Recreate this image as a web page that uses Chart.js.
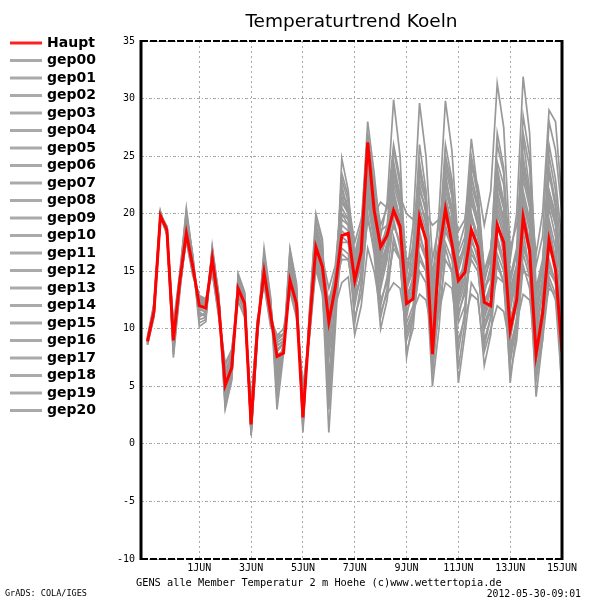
<!DOCTYPE html>
<html><head><meta charset="utf-8">
<script src="https://cdn.jsdelivr.net/npm/chart.js@4"></script>
<style>html,body{margin:0;padding:0;background:#fff}canvas{display:block}</style>
</head><body>
<canvas id="c" width="600" height="600"></canvas>
<script>
// x positions are 6-hourly forecast steps from 2012-05-30 00Z (step 0) to 2012-06-15 00Z (step 64)
const tickSteps = [8,16,24,32,40,48,56,64];
const tickLabels = ['1JUN','3JUN','5JUN','7JUN','9JUN','11JUN','13JUN','15JUN'];
const yMin = -10, yMax = 35, yStep = 5;

const haupt = [8.9,11.5,19.8,18.6,9.0,14.2,18.3,15.4,12.0,11.8,16.1,12.0,5.1,6.6,13.5,12.2,1.7,10.2,14.9,11.3,7.6,7.9,14.2,12.2,2.3,10.2,17.1,15.4,10.6,13.6,18.1,18.3,14.2,16.7,26.2,20.3,17.1,18.1,20.3,18.9,12.2,12.6,19.7,17.7,7.8,16.5,20.4,17.4,14.2,14.9,18.6,17.1,12.3,12.0,19.0,17.5,9.9,12.5,19.7,16.8,7.8,11.3,17.7,15.1,8.0];
const gep00 = [9.0,11.8,19.9,18.3,9.5,14.5,19.0,15.8,11.5,11.0,16.5,12.3,4.5,6.2,14.0,12.5,1.2,10.0,15.5,11.8,7.0,8.5,15.0,12.8,3.0,10.5,17.8,16.0,9.0,14.0,22.5,20.0,13.0,17.0,25.5,21.0,16.0,18.5,24.0,21.5,14.0,16.0,26.0,22.0,12.0,16.5,23.5,20.0,13.5,16.0,22.0,19.5,12.0,14.0,24.0,21.0,11.5,15.0,26.5,22.0,12.0,15.5,24.0,21.0,14.0];
const gep01 = [8.7,11.2,19.6,18.8,8.5,13.8,18.0,15.0,12.5,12.2,15.5,11.5,5.5,7.0,13.0,12.0,2.2,10.5,14.5,11.0,8.2,8.8,13.8,12.0,3.5,9.8,16.5,14.8,11.0,13.0,16.5,16.0,12.5,14.5,21.0,17.5,11.0,13.5,17.5,16.0,9.0,11.0,15.0,14.0,8.0,11.5,16.0,15.0,10.5,12.0,17.0,15.5,9.0,11.0,15.5,14.0,7.5,10.5,16.5,14.5,6.0,9.5,14.5,13.0,7.0];
const gep02 = [9.2,12.0,20.1,18.5,10.2,14.8,20.5,16.2,10.5,10.8,17.0,12.8,3.5,5.8,14.5,13.0,0.8,9.5,16.0,12.5,5.0,8.0,16.5,13.5,1.5,11.0,19.0,17.0,5.0,12.0,24.8,22.0,15.0,18.5,28.0,23.5,18.0,21.0,29.9,25.0,13.0,17.5,24.5,21.0,10.0,15.0,22.0,20.0,12.5,15.5,21.5,19.0,11.0,13.5,23.0,20.5,10.0,14.0,25.0,21.5,9.0,13.5,23.5,20.5,12.0];
const gep03 = [8.8,11.5,19.7,18.2,8.0,13.5,17.8,14.8,12.8,12.5,15.0,11.0,6.5,7.5,13.0,11.5,3.0,10.8,14.0,10.5,9.0,9.5,13.5,11.5,4.5,9.5,15.5,13.5,1.0,10.0,20.0,19.0,10.5,14.0,22.5,18.5,12.0,14.5,19.5,17.0,7.5,11.0,18.5,16.0,6.0,12.0,21.0,18.0,6.5,10.5,20.0,17.0,8.5,11.0,19.5,16.5,5.3,10.0,18.5,15.0,4.1,9.0,19.0,16.0,4.0];
const gep04 = [9.1,11.7,20.0,18.9,9.8,14.0,18.8,15.5,11.0,11.5,16.8,12.5,4.0,6.0,14.2,12.8,1.0,10.0,15.8,12.0,6.5,8.0,15.5,13.0,2.0,10.8,18.5,16.5,12.0,15.0,21.0,20.5,16.0,18.5,24.0,20.0,15.0,17.0,22.5,20.5,14.5,19.0,29.6,25.0,16.0,19.0,23.0,20.0,14.0,15.5,20.0,18.0,12.5,13.5,21.0,19.0,12.0,14.5,22.0,19.5,11.0,14.0,21.5,19.0,13.0];
const gep05 = [8.6,11.0,19.5,18.6,7.5,13.2,18.5,15.2,12.2,12.0,15.8,11.8,5.8,7.2,13.2,12.0,2.5,10.2,14.8,11.5,8.5,9.0,14.5,12.5,3.0,10.0,16.8,15.0,9.5,13.5,19.5,19.0,14.5,16.5,23.5,19.5,13.5,16.0,21.0,19.0,11.0,14.0,22.0,20.5,14.0,20.0,29.8,25.5,17.0,19.0,26.5,22.0,15.0,17.0,22.0,19.5,13.0,15.5,21.0,18.5,10.5,13.0,19.5,17.0,11.0];
const gep06 = [9.0,11.9,19.8,18.4,9.2,14.6,19.5,16.0,11.8,11.4,16.3,12.2,3.0,5.5,14.8,13.2,0.7,9.8,17.0,12.8,4.0,8.5,17.0,14.0,1.2,11.5,20.0,17.8,4.0,13.0,23.5,21.5,15.5,18.0,26.5,22.0,16.5,18.0,21.0,19.5,15.0,16.5,20.0,20.0,19.0,19.5,20.5,20.5,18.5,19.5,24.0,22.5,19.0,22.0,31.3,27.5,17.0,19.0,24.5,21.0,13.0,15.0,21.0,19.0,15.5];
const gep07 = [8.8,11.4,19.9,18.7,10.0,14.4,18.2,15.3,12.6,12.3,16.0,12.0,6.0,7.8,13.8,12.4,2.8,10.6,14.2,11.2,9.2,9.6,14.0,12.2,4.0,9.6,16.0,14.2,12.5,14.5,18.0,17.5,13.5,15.5,22.0,18.0,14.0,16.5,23.0,21.0,12.5,14.5,23.5,21.5,11.0,15.5,24.5,22.0,13.0,16.5,23.0,21.0,14.0,16.5,26.0,23.5,16.0,20.0,31.9,27.0,13.5,16.0,22.0,19.5,12.5];
const gep08 = [9.3,12.2,20.2,18.1,8.8,13.9,18.6,15.6,11.2,11.2,16.6,12.6,4.8,6.5,13.6,12.0,1.5,10.3,15.2,11.6,7.2,8.2,14.8,12.6,2.5,10.4,17.5,15.5,10.0,13.5,19.0,18.5,14.0,16.0,24.5,20.5,15.5,17.5,20.0,18.5,12.0,13.5,19.0,18.0,10.5,15.0,21.5,19.0,12.0,14.0,19.5,18.0,13.0,15.5,23.5,21.0,14.0,16.5,24.0,21.5,16.5,20.0,29.0,28.0,21.0];
const gep09 = [8.9,11.6,19.6,18.5,9.4,14.1,17.6,14.6,12.9,12.6,14.8,11.2,7.0,8.2,12.4,11.0,3.2,10.9,13.8,10.2,9.4,10.0,13.2,11.0,4.8,9.2,15.2,13.0,6.0,11.5,17.0,16.5,11.0,13.0,20.0,16.5,10.0,12.5,18.0,16.0,8.0,10.0,16.5,15.0,5.0,10.0,17.0,15.0,5.3,9.5,14.0,13.0,6.8,9.5,16.0,14.0,6.0,9.0,15.5,13.5,5.5,9.0,14.0,12.5,5.0];
const gep10 = [9.0,11.3,20.0,18.6,9.0,14.3,20.0,16.4,10.8,11.0,17.2,13.0,3.2,5.6,14.6,13.0,0.9,9.6,16.5,12.6,3.0,7.8,16.8,13.8,1.0,11.2,19.5,17.5,8.0,14.5,23.0,21.0,16.5,19.0,27.0,22.5,19.0,20.5,26.0,23.0,15.5,17.0,24.0,21.5,13.5,17.0,25.0,22.5,15.5,17.5,24.5,21.5,14.5,16.0,27.0,24.0,13.5,15.5,23.0,20.5,11.5,14.5,25.0,22.0,16.0];
const gep11 = [8.7,11.6,19.8,18.9,8.2,13.6,18.4,15.4,12.0,11.9,16.2,12.1,5.2,6.8,13.4,12.2,1.9,10.1,15.0,11.4,7.8,8.0,14.4,12.4,2.8,10.0,17.2,15.4,11.5,14.0,20.5,19.5,15.0,17.5,25.0,20.5,17.5,18.5,22.0,19.5,13.0,14.0,20.5,18.5,9.0,15.5,21.0,18.5,14.5,15.5,19.5,18.0,12.5,13.0,20.0,18.0,10.5,13.0,20.5,17.5,8.5,12.0,18.5,16.0,9.0];
const gep12 = [9.1,11.8,19.9,18.3,9.6,14.4,19.2,15.9,11.6,11.6,16.4,12.2,4.6,6.4,13.9,12.6,1.4,10.2,15.4,11.8,6.8,8.4,15.2,12.8,2.2,10.6,18.0,16.2,13.5,15.5,21.5,21.0,17.5,19.5,23.0,20.0,21.0,20.5,24.5,21.5,20.0,19.5,21.5,19.0,15.0,17.5,23.0,20.5,13.0,14.5,17.5,16.5,11.0,12.5,18.0,16.0,9.5,12.0,19.0,16.5,8.0,11.5,17.0,15.5,10.5];
const gep13 = [8.8,11.4,19.7,18.7,8.6,13.7,17.9,15.1,12.4,12.1,15.6,11.6,5.6,7.1,13.2,11.8,2.4,10.4,14.6,11.0,8.6,8.9,14.0,12.0,3.8,9.9,16.2,14.6,7.5,12.0,14.0,14.5,9.5,12.0,17.0,15.0,11.5,13.0,14.0,13.5,10.0,11.5,13.0,12.5,9.5,11.5,14.0,13.5,9.0,11.0,13.0,12.5,8.0,10.0,12.0,11.5,8.5,10.5,13.0,12.5,9.0,11.0,13.5,13.0,11.0];
const gep14 = [9.2,12.1,20.2,18.4,10.4,14.9,20.2,16.1,10.2,10.6,16.9,12.9,3.8,6.0,14.4,12.9,1.0,9.7,16.2,12.2,5.5,8.1,16.0,13.3,1.8,10.9,18.8,16.8,3.0,11.0,21.5,20.0,13.5,16.0,24.0,19.0,14.5,16.5,19.0,17.5,10.5,12.0,17.5,16.0,7.0,13.0,19.0,17.0,8.0,11.5,18.0,16.0,10.0,11.5,17.5,15.5,7.0,10.5,17.5,15.0,6.0,10.0,16.0,14.0,6.5];
const gep15 = [8.6,11.1,19.6,18.6,7.8,13.4,18.1,15.0,12.7,12.4,15.2,11.4,6.8,7.9,12.8,11.4,3.4,10.7,14.1,10.8,9.5,9.4,13.6,11.6,5.0,9.4,15.8,13.8,12.0,14.5,18.5,18.0,14.0,16.0,21.5,18.5,16.0,17.0,19.0,17.5,11.5,13.0,18.0,16.5,12.5,14.5,18.5,17.0,11.0,13.5,16.0,15.0,10.5,12.0,14.5,14.0,11.0,12.5,15.0,14.5,9.5,11.5,15.0,14.0,9.5];
const gep16 = [9.0,11.7,19.8,18.5,9.1,14.2,18.7,15.5,11.9,11.7,16.2,12.0,5.0,6.6,13.7,12.3,1.6,10.2,15.0,11.4,7.4,8.0,14.6,12.4,2.6,10.2,17.4,15.6,10.5,13.0,17.5,17.5,12.0,15.0,23.0,19.0,15.0,17.0,21.5,19.5,13.5,15.0,21.0,19.5,10.0,14.5,19.5,18.0,12.5,14.5,21.0,19.0,11.5,13.5,20.5,18.5,9.0,12.5,21.5,19.0,10.0,13.0,20.5,18.0,8.5];
const gep17 = [8.9,11.5,19.9,18.7,9.7,14.6,19.8,16.3,11.3,11.1,16.7,12.7,4.2,6.1,14.3,12.7,1.1,9.9,16.4,12.3,6.0,8.3,15.8,13.1,1.6,10.7,18.6,16.6,8.5,13.5,22.0,20.5,15.5,18.0,25.0,21.5,17.0,19.0,25.5,22.5,13.5,15.5,23.0,21.0,11.5,16.0,22.5,20.5,15.0,17.0,25.0,22.0,13.5,15.0,22.5,20.5,12.5,15.0,27.0,24.0,13.0,15.5,26.0,23.0,17.5];
const gep18 = [8.8,11.3,19.7,18.4,8.4,13.6,18.2,15.2,12.3,12.0,15.7,11.7,5.9,7.4,13.1,11.9,2.6,10.5,14.4,11.1,8.8,9.2,14.1,12.1,3.4,9.7,16.4,14.9,12.0,14.0,16.0,16.0,13.0,14.5,19.5,17.0,12.5,14.0,17.0,16.0,9.5,11.5,16.0,15.0,9.5,13.0,17.5,16.0,11.5,13.0,16.5,15.5,10.0,12.0,16.5,15.0,8.0,11.0,17.0,15.5,7.0,10.5,15.5,14.0,7.5];
const gep19 = [9.1,11.9,20.0,18.6,9.3,14.3,19.1,15.7,11.7,11.5,16.5,12.4,4.4,6.3,14.1,12.6,1.3,10.1,15.6,11.9,6.6,8.6,15.4,12.9,2.1,10.6,18.2,16.1,9.5,14.0,21.0,20.0,14.5,17.0,26.0,21.5,16.5,18.0,23.5,21.0,12.0,14.5,22.5,20.0,12.5,17.5,26.0,23.0,16.5,18.0,23.5,20.5,13.5,14.5,21.5,19.5,12.0,14.0,23.5,21.0,10.5,13.0,22.0,20.0,14.5];
const gep20 = [8.7,11.4,19.8,18.5,8.9,14.0,18.6,15.4,12.1,11.9,16.0,11.9,5.4,6.9,13.3,12.1,2.0,10.3,14.7,11.3,8.0,8.7,14.3,12.3,2.9,10.1,16.9,15.2,11.0,14.5,20.0,19.5,16.0,18.0,24.0,21.0,18.5,19.0,21.5,19.5,16.0,16.5,22.0,20.5,14.0,17.0,24.0,21.5,16.0,17.0,22.5,20.5,15.0,16.5,24.5,22.5,14.5,17.0,28.5,25.0,15.5,18.0,28.0,25.5,20.0];

const members = [gep00,gep01,gep02,gep03,gep04,gep05,gep06,gep07,gep08,gep09,gep10,gep11,gep12,gep13,gep14,gep15,gep16,gep17,gep18,gep19,gep20];
const memberNames = ['gep00','gep01','gep02','gep03','gep04','gep05','gep06','gep07','gep08','gep09','gep10','gep11','gep12','gep13','gep14','gep15','gep16','gep17','gep18','gep19','gep20'];

const toPts = arr => arr.map((v, i) => ({x: i, y: v}));

const datasets = [{
  label: 'Haupt', data: toPts(haupt), borderColor: '#ff0000', backgroundColor: '#ff0000',
  borderWidth: 3, pointRadius: 0, tension: 0, legendColor: '#ff2020'
}].concat(members.map((m, k) => ({
  label: memberNames[k], data: toPts(m), borderColor: '#999999', backgroundColor: '#999999',
  borderWidth: 1.7, pointRadius: 0, tension: 0, legendColor: '#aaaaaa'
})));

const gradsDecor = {
  id: 'gradsDecor',
  afterDatasetsDraw(chart) {
    const {ctx, chartArea: a} = chart;
    ctx.save();
    ctx.strokeStyle = '#000';
    ctx.lineWidth = 3;
    ctx.beginPath();
    ctx.moveTo(a.left, a.top - 1); ctx.lineTo(a.left, a.bottom + 1);
    ctx.moveTo(a.right, a.top - 1); ctx.lineTo(a.right, a.bottom + 1);
    ctx.stroke();
    ctx.lineWidth = 2;
    ctx.setLineDash([7, 2]);
    ctx.beginPath();
    ctx.moveTo(a.left, a.top); ctx.lineTo(a.right, a.top);
    ctx.moveTo(a.left, a.bottom); ctx.lineTo(a.right, a.bottom);
    ctx.stroke();
    ctx.restore();
  },
  afterDraw(chart) {
    const ctx = chart.ctx;
    ctx.save();
    ctx.textBaseline = 'middle';
    ctx.textAlign = 'left';
    ctx.font = 'bold 14px "DejaVu Sans"';
    chart.data.datasets.forEach((d, i) => {
      const y = 43 + i * 17.5;
      ctx.strokeStyle = d.legendColor;
      ctx.lineWidth = 3;
      ctx.beginPath(); ctx.moveTo(10, y); ctx.lineTo(42, y); ctx.stroke();
      ctx.fillStyle = '#000';
      ctx.fillText(d.label, 47, y);
    });
    ctx.font = '10.3px "DejaVu Sans Mono"';
    ctx.fillText('GENS alle Member Temperatur 2 m Hoehe (c)www.wettertopia.de', 136, 583);
    ctx.font = '8.5px "DejaVu Sans Mono"';
    ctx.fillText('GrADS: COLA/IGES', 5, 594);
    ctx.font = '9.8px "DejaVu Sans Mono"';
    ctx.textAlign = 'right';
    ctx.fillText('2012-05-30-09:01', 581, 594);
    ctx.restore();
  }
};

new Chart(document.getElementById('c'), {
  type: 'line',
  data: { datasets },
  plugins: [gradsDecor],
  options: {
    responsive: false,
    animation: false,
    devicePixelRatio: 1,
    layout: { padding: { left: 100, right: 38, top: 0, bottom: 0 } },
    plugins: {
      legend: { display: false },
      tooltip: { enabled: false },
      title: {
        display: true, text: 'Temperaturtrend Koeln', fullSize: false,
        color: '#000', font: { family: 'DejaVu Sans', size: 18.5, weight: 'normal', lineHeight: 1.2 },
        padding: { top: 11, bottom: 7.8 }
      }
    },
    scales: {
      x: {
        type: 'linear', min: -1, max: 64,
        afterBuildTicks(s) { s.ticks = tickSteps.map(v => ({value: v})); },
        afterFit(s) { s.height = 41; },
        ticks: {
          autoSkip: false, maxRotation: 0, padding: 3, color: '#000',
          font: { family: 'DejaVu Sans Mono', size: 10 },
          callback: (v) => tickLabels[tickSteps.indexOf(v)]
        },
        grid: { color: '#a8a8a8', lineWidth: 1, drawTicks: false },
        border: { display: false, dash: [2, 3] }
      },
      y: {
        type: 'linear', min: yMin, max: yMax,
        afterFit(s) { s.width = 41; },
        ticks: { stepSize: yStep, padding: 6, color: '#000', font: { family: 'DejaVu Sans Mono', size: 10 } },
        grid: { color: '#a8a8a8', lineWidth: 1, drawTicks: false },
        border: { display: false, dash: [3, 2, 1, 2] }
      }
    }
  }
});
</script>
</body></html>
